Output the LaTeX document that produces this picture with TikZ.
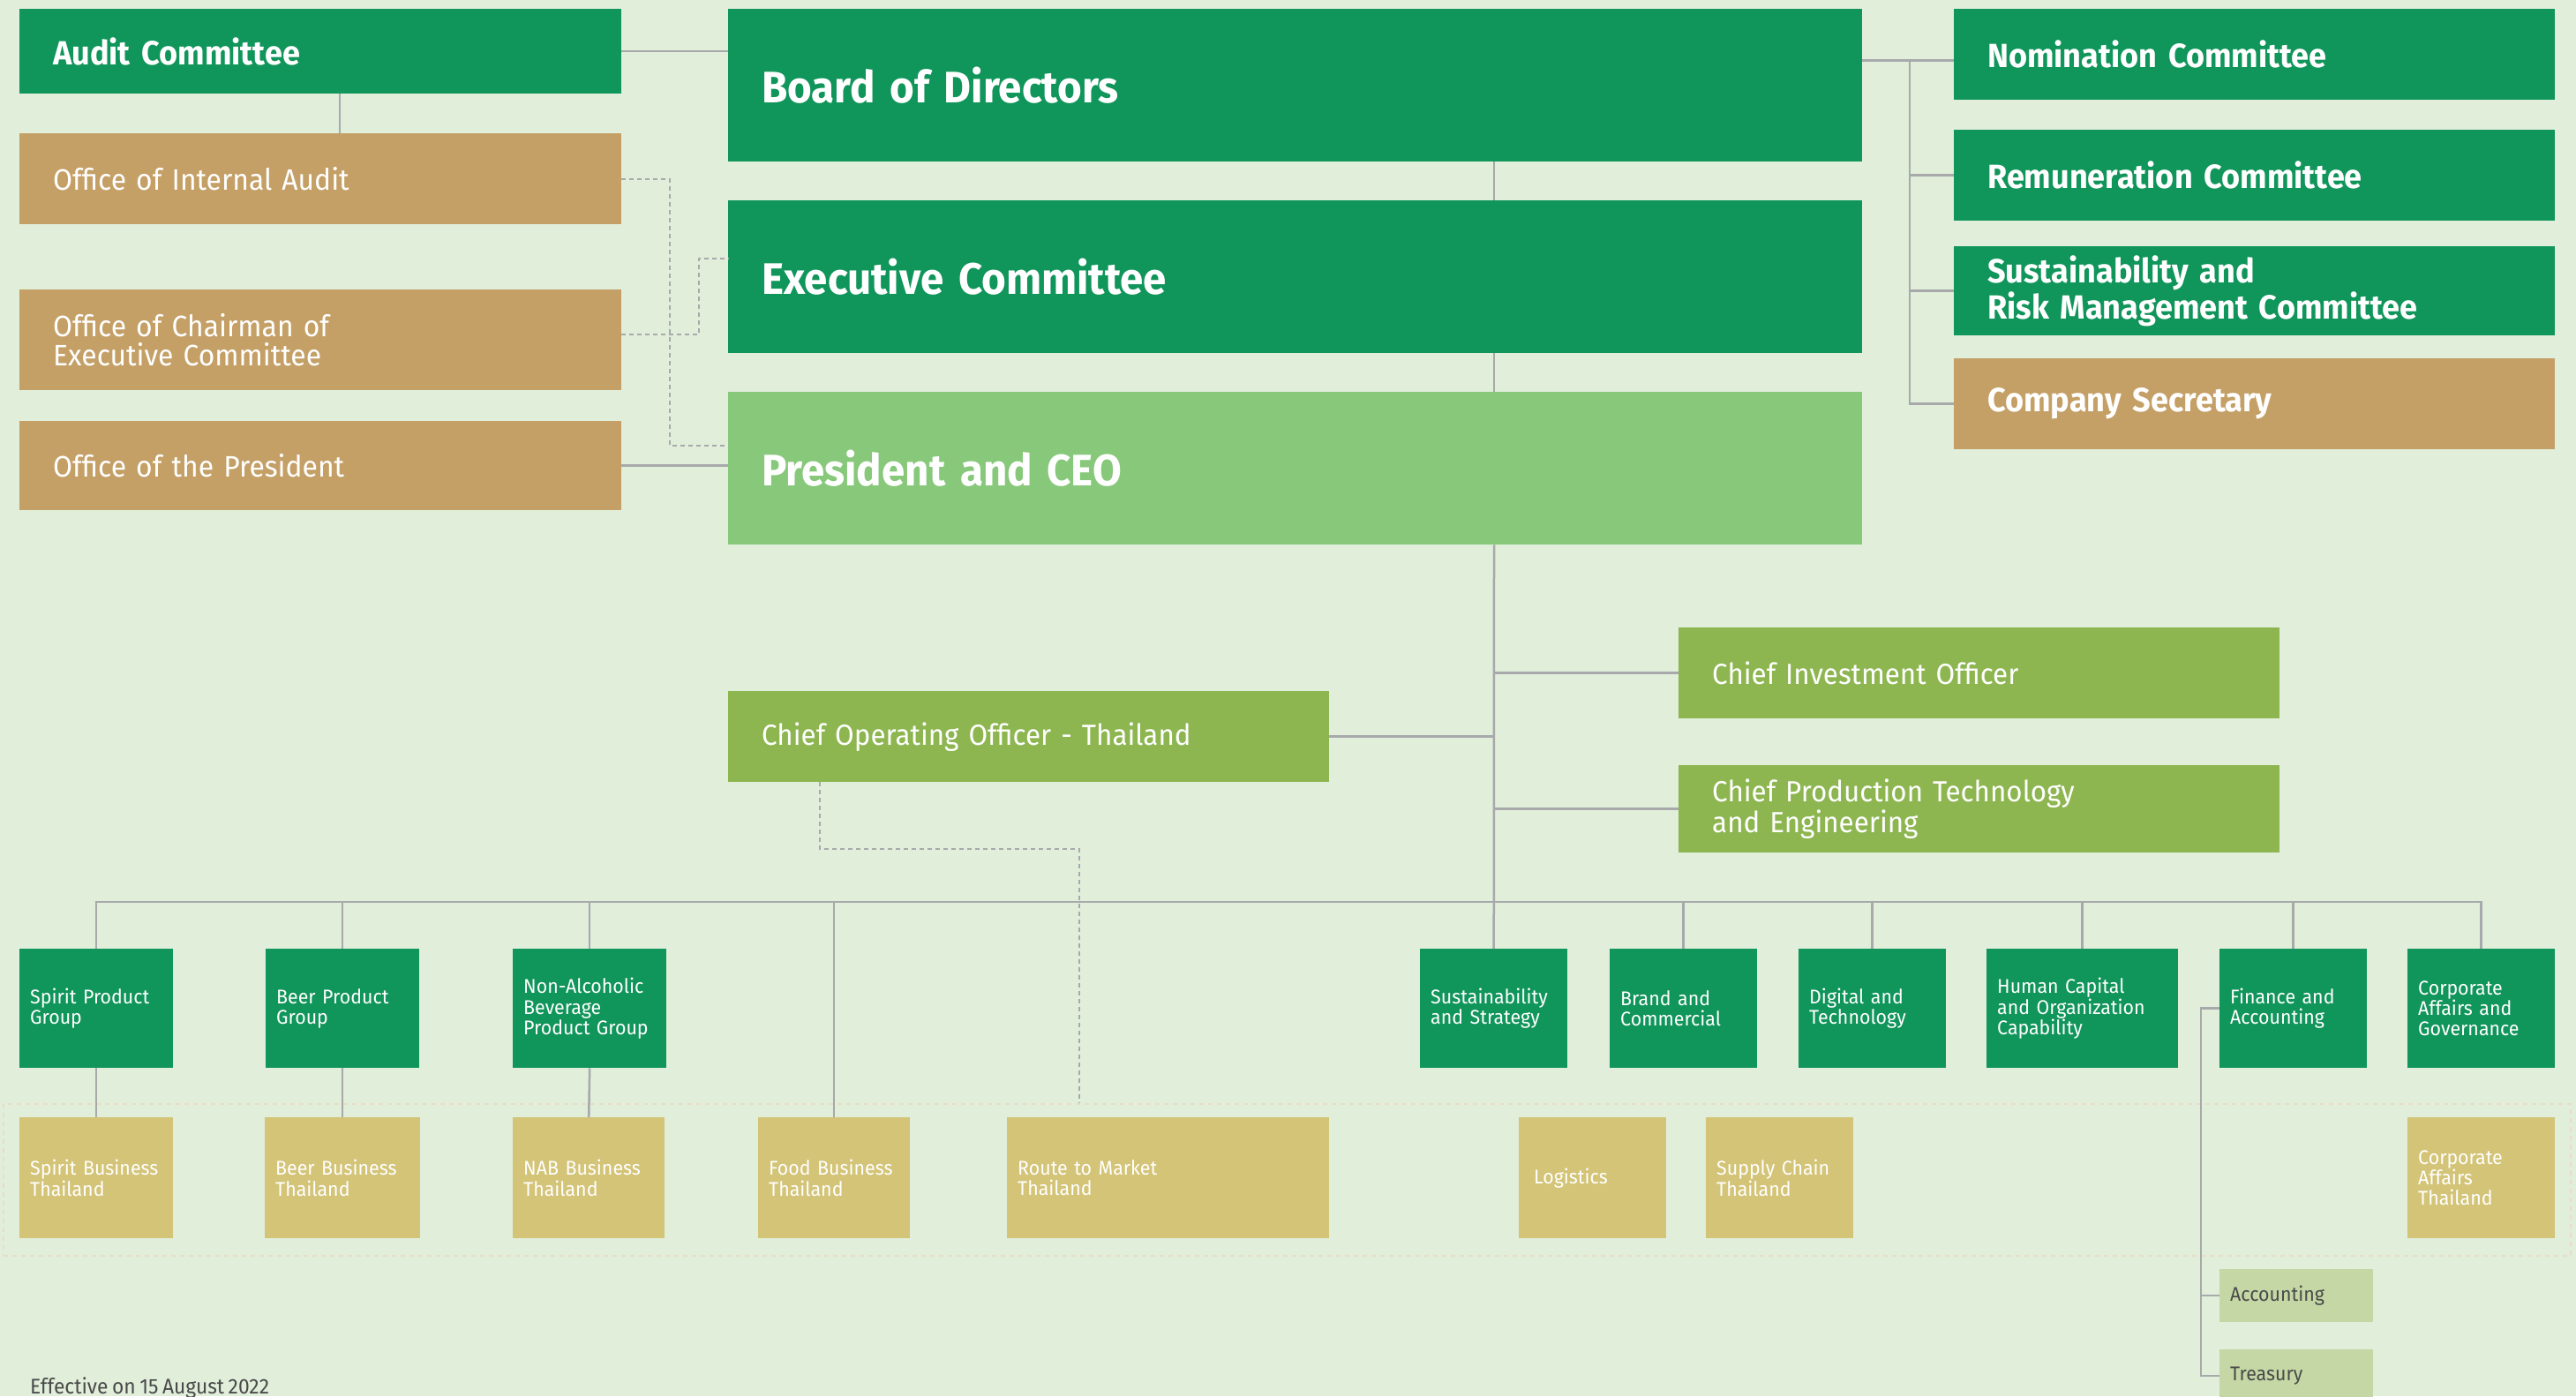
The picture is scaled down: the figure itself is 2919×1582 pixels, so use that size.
\documentclass[tikz,border=0pt]{standalone}
\usepackage{fontspec}
\setmainfont{Fira Sans}[FakeStretch=0.95, WordSpace=0.75]
\usepackage{tikz}
\usetikzlibrary{calc}

\definecolor{bgmint}{HTML}{E0EEDA}
\definecolor{dkgreen}{HTML}{10955A}
\definecolor{tanbox}{HTML}{C4A067}
\definecolor{ceogreen}{HTML}{87C87A}
\definecolor{olive}{HTML}{8DB650}
\definecolor{bizyellow}{HTML}{D3C477}
\definecolor{subgreen}{HTML}{C4D7A4}
\definecolor{linegrey}{HTML}{A7A9AB}
\definecolor{zonetan}{HTML}{EADCC6}
\definecolor{efftext}{HTML}{4A4A4A}

\newcommand{\fbig}{\fontsize{50}{52}\selectfont\bfseries}
\newcommand{\fmidb}{\fontsize{38}{36}\selectfont\bfseries}
\newcommand{\fmid}{\fontsize{33.5}{33}\selectfont}
\newcommand{\fcoo}{\fontsize{33}{35}\selectfont}
\newcommand{\fsmall}{\fontsize{22.5}{23.4}\selectfont}

\tikzset{
  orgbox/.style={anchor=north west, inner ysep=0pt, align=left, text=white},
  bigbox/.style 2 args={orgbox, minimum width=#1pt, minimum height=#2pt, text width=#1pt-76pt, inner xsep=38pt},
  smallbox/.style 2 args={orgbox, minimum width=#1pt, minimum height=#2pt, text width=#1pt-24pt, inner xsep=12pt, font=\fsmall},
  conn/.style={draw=linegrey, line width=2.5pt},
  dotconn/.style={draw=linegrey, line width=2pt, dash pattern=on 5pt off 4pt},
}

\begin{document}
\begin{tikzpicture}[x=1pt,y=1pt,yscale=-1,xscale=1]
\useasboundingbox (0,0) rectangle (2919,1582);
\fill[bgmint] (0,0) rectangle (2919,1582);

% dashed zone round the Thailand units
\node (bizzone) [anchor=north west, draw=zonetan, line width=2pt, dash pattern=on 5pt off 5pt, inner sep=0pt, minimum width=2909pt, minimum height=172pt] at (2.5,1250) {};

% top level
\node (board) [bigbox={1285}{173}, fill=dkgreen, font=\fbig] at (825,10) {Board of Directors};
\node (exco) [bigbox={1285}{173}, fill=dkgreen, font=\fbig] at (825,227) {Executive Committee};
\node (ceo) [bigbox={1285}{173}, fill=ceogreen, font=\fbig] at (825,444) {President and CEO};

% left column
\node (audit) [bigbox={682}{96}, fill=dkgreen, font=\fmidb] at (22,10) {Audit Committee};
\node (oia) [bigbox={682}{103}, fill=tanbox, font=\fmid] at (22,151) {Office of Internal Audit};
\node (oce) [bigbox={682}{114}, fill=tanbox, font=\fmid] at (22,328) {Office of Chairman of\\Executive Committee};
\node (opres) [bigbox={682}{101}, fill=tanbox, font=\fmid] at (22,477) {Office of the President};

% right column
\node (nom) [bigbox={681}{103}, fill=dkgreen, font=\fmidb] at (2214,10) {Nomination Committee};
\node (rem) [bigbox={681}{103}, fill=dkgreen, font=\fmidb] at (2214,147) {Remuneration Committee};
\node (srm) [bigbox={681}{101}, fill=dkgreen, font=\fmidb] at (2214,279) {Sustainability and\\Risk Management Committee};
\node (secr) [bigbox={681}{103}, fill=tanbox, font=\fmidb] at (2214,406) {Company Secretary};

% chiefs
\node (coo) [bigbox={681}{103}, fill=olive, font=\fcoo] at (825,783) {Chief Operating Officer - Thailand};
\node (cio) [bigbox={681}{103}, fill=olive, font=\fcoo] at (1902,711) {Chief Investment Officer};
\node (cpte) [bigbox={681}{99}, fill=olive, font=\fcoo] at (1902,867) {Chief Production Technology\\and Engineering};

% product groups and functions
\node (spg) [smallbox={174}{135}, fill=dkgreen] at (22,1075) {Spirit Product\\Group};
\node (bpg) [smallbox={174}{135}, fill=dkgreen] at (301,1075) {Beer Product\\Group};
\node (nabpg) [smallbox={174}{135}, fill=dkgreen] at (581,1075) {Non-Alcoholic\\Beverage\\Product Group};
\node (sust) [smallbox={167}{135}, fill=dkgreen] at (1609,1075) {Sustainability\\and Strategy};
\node (brand) [smallbox={167}{135}, fill=dkgreen] at (1824,1075) {Brand and\\Commercial};
\node (digital) [smallbox={167}{135}, fill=dkgreen] at (2038,1075) {Digital and\\Technology};
\node (hcoc) [smallbox={217}{135}, fill=dkgreen] at (2251,1075) {Human Capital\\and Organization\\Capability};
\node (finance) [smallbox={167}{135}, fill=dkgreen] at (2515,1075) {Finance and\\Accounting};
\node (cag) [smallbox={167}{135}, fill=dkgreen] at (2728,1075) {Corporate\\Affairs and\\Governance};

% Thailand units
\node (sbt) [smallbox={174}{137}, fill=bizyellow] at (22,1266) {Spirit Business\\Thailand};
\node (bbt) [smallbox={176}{137}, fill=bizyellow] at (300,1266) {Beer Business\\Thailand};
\node (nabt) [smallbox={172}{137}, fill=bizyellow] at (581,1266) {NAB Business\\Thailand};
\node (fbt) [smallbox={172}{137}, fill=bizyellow] at (859,1266) {Food Business\\Thailand};
\node (rtm) [smallbox={365}{137}, fill=bizyellow] at (1141,1266) {Route to Market\\Thailand};
\node (logi) [smallbox={167}{137}, fill=bizyellow, inner xsep=17pt, text width=133pt] at (1721,1266) {Logistics};
\node (supply) [smallbox={167}{137}, fill=bizyellow] at (1933,1266) {Supply Chain\\Thailand};
\node (cat) [smallbox={167}{137}, fill=bizyellow] at (2728,1266) {Corporate\\Affairs\\Thailand};

% finance units
\node (accounting) [smallbox={174}{60}, fill=subgreen, text=efftext] at (2515,1438) {Accounting};
\node (treasury) [smallbox={174}{60}, fill=subgreen, text=efftext] at (2515,1529) {Treasury};

\node (eff) [anchor=base west, inner sep=0pt, text=efftext, font=\fontsize{24}{26}\selectfont] at (34,1579) {Effective on 15 August 2022};

\coordinate (spine) at (1693,0);
\coordinate (rspine) at (2164,0);
\coordinate (bus) at (0,1022);
\coordinate (fspine) at (2494,0);
\coordinate (nomlink) at ($(nom.west)+(0,7)$);

%Straight Lines
\draw[conn] (audit.east) -- (audit.east -| board.west);
\draw[conn] ($(audit.south)+(22,0)$) -- ($(oia.north)+(22,0)$);
\draw[conn] (opres.east) -- (opres.east -| ceo.west);
\draw[conn] (board.south -| spine) -- (exco.north -| spine);
\draw[conn] (exco.south -| spine) -- (ceo.north -| spine);
\draw[conn] (ceo.south -| spine) -- (sust.north);
\draw[conn] (coo.east) -- (coo.east -| spine);
\draw[conn] (cio.west -| spine) -- (cio.west);
\draw[conn] (cpte.west -| spine) -- (cpte.west);
\draw[conn] (board.east |- nomlink) -- (nomlink);
\draw[conn] (nomlink -| rspine) |- (secr.west);
\draw[conn] (rem.west -| rspine) -- (rem.west);
\draw[conn] (srm.west -| rspine) -- (srm.west);
\draw[conn] (spg.north) |- (bus -| cag.north) -- (cag.north);
\foreach \n in {bpg,nabpg,fbt,brand,digital,hcoc,finance}
  \draw[conn] (\n.north |- bus) -- (\n.north);
\foreach \a/\b in {spg/sbt,bpg/bbt,nabpg/nabt}
  \draw[conn] (\a.south) -- (\b.north);
\draw[conn] (finance.west) -- (finance.west -| fspine) |- (treasury.west);
\draw[conn] (accounting.west -| fspine) -- (accounting.west);

%Dashed Lines
\draw[dotconn] (oia.east) -- ++(55,0) |- ($(ceo.north west)!0.35!(ceo.south west)$);
\draw[dotconn] ($(oce.north east)!0.45!(oce.south east)$) -- ++(88,0) |- ($(exco.north west)!0.38!(exco.south west)$);
\draw[dotconn] ($(coo.south west)+(104,0)$) -- ++(0,76) -| ($(bizzone.north -| rtm.north west)+(82,0)$);

\end{tikzpicture}
\end{document}
